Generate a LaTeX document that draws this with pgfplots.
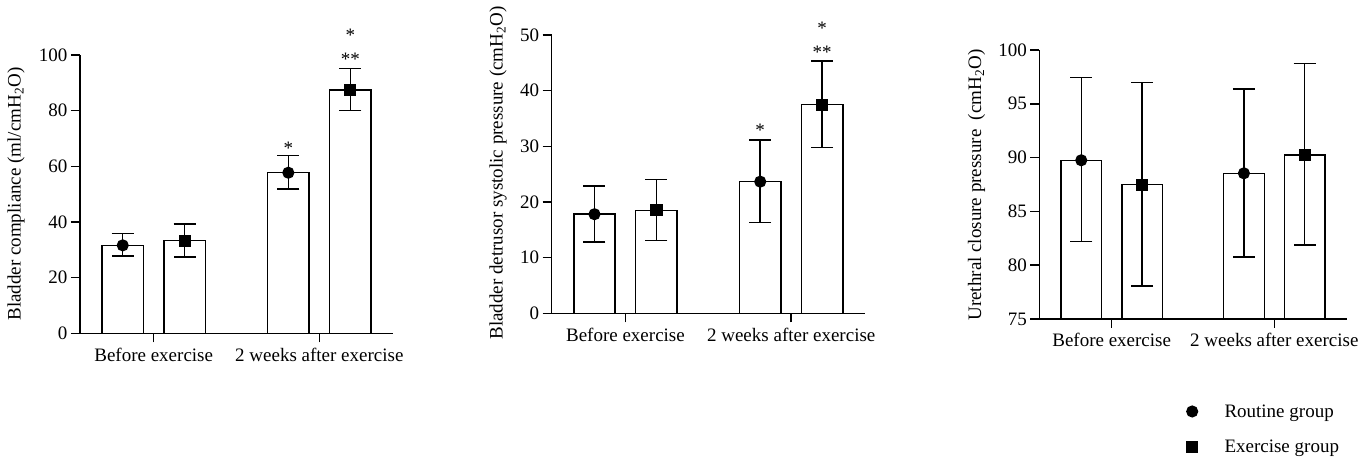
\documentclass[border=0pt]{standalone}
\usepackage{fontspec}
\setmainfont{Liberation Serif}
\usepackage{pgfplots}
\pgfplotsset{compat=1.18}
\pgfplotsset{
  panel/.style={
    scale only axis,
    anchor=south west,
    font=\fontsize{19}{22}\selectfont,
    axis lines*=left,
    axis line style={line width=1.5pt},
    tick style={line width=1.5pt, black},
    tick align=outside,
    major tick length=9pt,
    xmin=0.555, xmax=2.445,
    xtick={1,2},
    xticklabels={Before exercise, 2 weeks after exercise},
    xticklabel style={yshift=-2pt},
    /pgf/number format/assume math mode=true,
    every axis y label/.style={rotate=90, anchor=center},
    minor tick num=0,
  },
  barst/.style={ybar, bar width=0.25, bar shift=0pt, fill=white, draw=black, line width=1.5pt, forget plot},
  mk/.style={only marks, black, mark size=5.3pt, line width=1.5pt,
    error bars/y dir=both, error bars/y explicit,
    error bars/error bar style={line width=1.5pt, black},
    error bars/error mark options={rotate=90, mark size=11pt, line width=1.5pt, black}},
}
\begin{document}
\begin{tikzpicture}
\useasboundingbox (0,0) rectangle (1358pt,462pt);
% Panel 1
\begin{axis}[panel, at={(80pt,128.7pt)}, width=313pt, height=278.3pt,
  ymin=0, ymax=100, ytick={0,20,40,60,80,100}, clip=false,
  ylabel={Bladder compliance (ml/cmH\textsubscript{2}O)},
  ylabel style={at={(axis description cs:-0.204,0.5)}}]
\addplot[barst] coordinates {(0.813,31.6) (1.187,33.3) (1.813,57.7) (2.187,87.5)};
\addplot[mk, mark=*] coordinates {(0.813,31.6) += (0,4.3) -= (0,3.8) (1.813,57.7) += (0,6.1) -= (0,5.8)};
\addplot[mk, mark=square*] coordinates {(1.187,33.3) += (0,6.0) -= (0,5.8) (2.187,87.5) += (0,7.6) -= (0,7.4)};
\node[anchor=base] at (axis cs:1.813,64.2) {*};
\node[anchor=base] at (axis cs:2.187,96.2) {**};
\node[anchor=base] at (axis cs:2.187,104.8) {*};
\end{axis}
% Panel 2
\begin{axis}[panel, at={(551.7pt,148.7pt)}, width=313.3pt, height=278.3pt,
  ymin=0, ymax=50, ytick={0,10,20,30,40,50}, clip=false,
  ylabel={Bladder detrusor systolic pressure (cmH\textsubscript{2}O)},
  ylabel style={at={(axis description cs:-0.171,0.504)}}]
\addplot[barst] coordinates {(0.813,17.8) (1.187,18.5) (1.813,23.65) (2.187,37.5)};
\addplot[mk, mark=*] coordinates {(0.813,17.8) += (0,5.1) -= (0,5.0) (1.813,23.65) += (0,7.45) -= (0,7.35)};
\addplot[mk, mark=square*] coordinates {(1.187,18.5) += (0,5.5) -= (0,5.4) (2.187,37.5) += (0,7.8) -= (0,7.7)};
\node[anchor=base] at (axis cs:1.813,31.8) {*};
\node[anchor=base] at (axis cs:2.187,45.7) {**};
\node[anchor=base] at (axis cs:2.187,50.0) {*};
\end{axis}
% Panel 3
\begin{axis}[panel, at={(1039.3pt,143pt)}, width=307.4pt, height=269pt,
  ymin=75, ymax=100, ytick={75,80,85,90,95,100},
  ylabel={Urethral closure pressure\ \ (cmH\textsubscript{2}O)},
  ylabel style={at={(axis description cs:-0.204,0.498)}},
  legend image code/.code={\draw[#1] plot coordinates {(0pt,0pt)};},
  legend style={draw=none, fill=none, inner sep=0pt,
    at={(axis description cs:0.4795,-0.409)}, anchor=west,
    nodes={inner sep=0pt, anchor=west},
    column sep=27pt, row sep=21pt,
    font=\fontsize{19}{22}\selectfont},
  legend cell align=left]
\addplot[barst] coordinates {(0.813,89.75) (1.187,87.48) (1.813,88.54) (2.187,90.24)};
\addplot[mk, mark=*] coordinates {(0.813,89.75) += (0,7.68) -= (0,7.56) (1.813,88.54) += (0,7.84) -= (0,7.78)};
\addlegendentry{Routine group}
\addplot[mk, mark=square*] coordinates {(1.187,87.48) += (0,9.51) -= (0,9.41) (2.187,90.24) += (0,8.49) -= (0,8.36)};
\addlegendentry{Exercise group}
\end{axis}
\end{tikzpicture}
\end{document}
